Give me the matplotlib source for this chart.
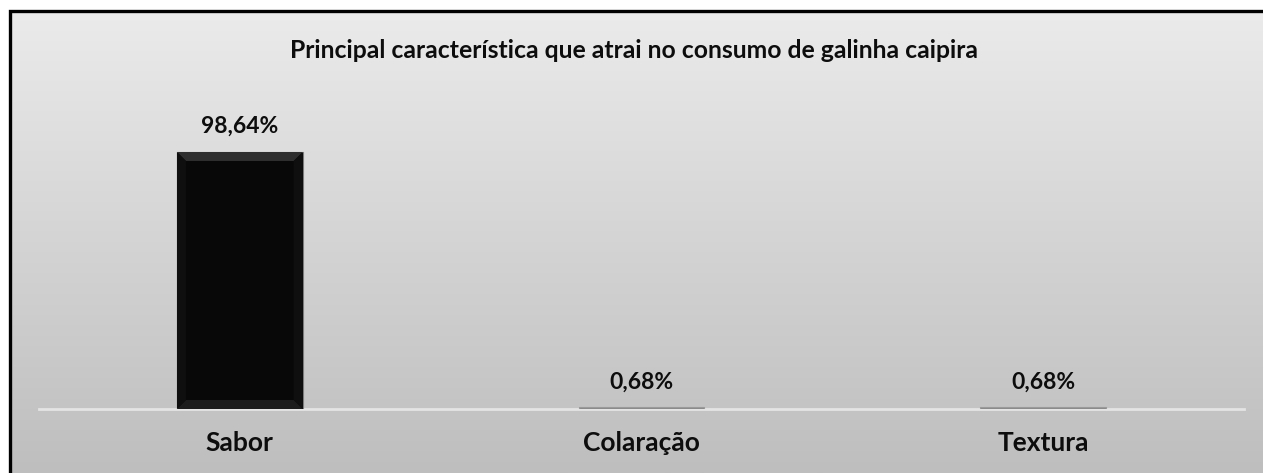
import numpy as np
import matplotlib
matplotlib.use("Agg")
import matplotlib.pyplot as plt
from matplotlib.patches import Polygon
from matplotlib.lines import Line2D
from matplotlib.colors import LinearSegmentedColormap

# Chart data
categories = ["Sabor", "Colaração", "Textura"]
percentages = [98.64, 0.68, 0.68]
value_labels = ["98,64%", "0,68%", "0,68%"]
title = "Principal característica que atrai no consumo de galinha caipira"

W, H = 1263, 473
DPI = 100
plt.rcParams["font.family"] = ["Lato", "DejaVu Sans"]

fig = plt.figure(figsize=(W / DPI, H / DPI), dpi=DPI)
fig.patch.set_facecolor("white")

# Gradient chart area background with black frame (left and top edges)
frame_x0, frame_y0 = 10 / W, 1 - 11 / H
bg = fig.add_axes([frame_x0, 0, 1 - frame_x0, frame_y0], zorder=0)
grad = np.linspace(0, 1, 256).reshape(-1, 1)
cmap = LinearSegmentedColormap.from_list("bg", ["#ebebeb", "#d4d4d4", "#bebebe"])
bg.imshow(grad, aspect="auto", cmap=cmap, extent=[0, 1, 0, 1], origin="upper")
bg.set_xlim(0, 1)
bg.set_ylim(0, 1)
bg.axis("off")
fig.add_artist(Line2D([frame_x0, frame_x0, 1.01], [-0.01, frame_y0, frame_y0],
                      transform=fig.transFigure, color="black", linewidth=2.4,
                      solid_joinstyle="miter", zorder=5))

# Plot area
ax_l, ax_r = 39 / W, 1244 / W
ax_b = 1 - 409 / H
ymax = 120.0
ax_h = (257 / 98.64 * ymax) / H
ax = fig.add_axes([ax_l, ax_b, ax_r - ax_l, ax_h], zorder=2)
ax.patch.set_alpha(0)
ax.set_xlim(-0.5, len(categories) - 0.5)
ax.set_ylim(0, ymax)

x = np.arange(len(categories))
bar_w = 0.313
bars = ax.bar(x, percentages, width=bar_w, color="#080808",
              edgecolor="#7a7a7a", linewidth=0.8, zorder=3)

# Bevel highlights on the bars
px_x = (ax.get_xlim()[1] - ax.get_xlim()[0]) / ((ax_r - ax_l) * W)
px_y = ymax / (ax_h * H)
bev = 9
for b in bars:
    x0, w, h = b.get_x(), b.get_width(), b.get_height()
    if h / px_y < 3 * bev:
        b.set_facecolor("#8a8a8a")
        b.set_edgecolor("#9a9a9a")
        continue
    x1 = x0 + w
    bx, by = bev * px_x, bev * px_y
    ax.add_patch(Polygon([(x0, h), (x1, h), (x1 - bx, h - by), (x0 + bx, h - by)],
                         closed=True, facecolor="#2e2e2e", edgecolor="none", zorder=4))
    ax.add_patch(Polygon([(x0, 0), (x1, 0), (x1 - bx, by), (x0 + bx, by)],
                         closed=True, facecolor="#1c1c1c", edgecolor="none", zorder=4))
    ax.add_patch(Polygon([(x0, 0), (x0 + bx, by), (x0 + bx, h - by), (x0, h)],
                         closed=True, facecolor="#0f0f0f", edgecolor="none", zorder=4))
    ax.add_patch(Polygon([(x1, 0), (x1 - bx, by), (x1 - bx, h - by), (x1, h)],
                         closed=True, facecolor="#0f0f0f", edgecolor="none", zorder=4))

# Value labels
for xi, v, lab in zip(x, percentages, value_labels):
    ax.annotate(lab, (xi, v), xytext=(0, 15), textcoords="offset pixels",
                ha="center", va="bottom", fontsize=16.5, fontweight="bold",
                color="#0d0d0d", zorder=6)

# Axes styling
for side in ["left", "right", "top"]:
    ax.spines[side].set_visible(False)
ax.spines["bottom"].set_color("#e4e4e4")
ax.spines["bottom"].set_linewidth(2)
ax.set_yticks([])
ax.set_xticks(x)
ax.set_xticklabels(categories, fontsize=19, fontweight="bold", color="#0d0d0d")
ax.tick_params(axis="x", length=0, pad=15.5)

fig.text(634 / W, 1 - 50 / H, title, ha="center", va="center",
         fontsize=17.8, fontweight="bold", color="#0d0d0d")

fig.savefig("out.png", dpi=DPI)
